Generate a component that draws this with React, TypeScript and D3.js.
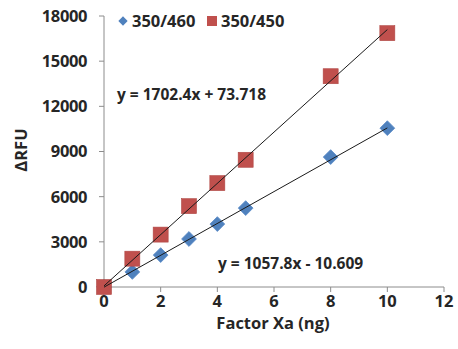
import React from 'react';
import * as d3 from 'd3';

const xValues = [0, 1, 2, 3, 4, 5, 8, 10];
const blueValues = [0, 1000, 2120, 3190, 4180, 5240, 8630, 10550];
const redValues = [0, 1880, 3480, 5370, 6900, 8450, 14000, 16860];
const xTicks = [0, 2, 4, 6, 8, 10, 12];
const yTicks = [0, 3000, 6000, 9000, 12000, 15000, 18000];
const seriesNames = ['350/460', '350/450'];
const fitBlue = { slope: 1057.8, intercept: -10.609, label: 'y = 1057.8x - 10.609' };
const fitRed = { slope: 1702.4, intercept: 73.718, label: 'y = 1702.4x + 73.718' };

const W = 458;
const H = 349;
const FONT = '"Open Sans", sans-serif';
const TXT = '#262626';
const AXIS = '#8c8c8c';

export default function App() {
  const x = d3.scaleLinear().domain([0, 12]).range([104, 444]);
  const y = d3.scaleLinear().domain([0, 18000]).range([287, 16]);

  const line = (f: { slope: number; intercept: number }) =>
    d3.line<number>().x(d => x(d)).y(d => y(f.slope * d + f.intercept))([0, 10]) || '';

  const diamond = d3.symbol().type(d3.symbolDiamond2).size(140)() || '';

  return (
    <svg width={W} height={H} style={{ position: 'absolute', left: 0, top: 0 }}>
      <rect width={W} height={H} fill="#fff" />
      {/* axes */}
      <line x1={x(0)} x2={x(0)} y1={y(0)} y2={y(18000)} stroke={AXIS} />
      <line x1={x(0)} x2={x(12)} y1={y(0)} y2={y(0)} stroke={AXIS} />
      {yTicks.map(t => (
        <g key={'y' + t}>
          <line x1={x(0) - 5} x2={x(0)} y1={y(t)} y2={y(t)} stroke={AXIS} />
          <text x={87} y={y(t)} dy="0.36em" textAnchor="end" fontFamily={FONT} fontWeight="bold"
            fontSize={16.5} fill={TXT} style={{ letterSpacing: '-0.4px' }}>{t}</text>
        </g>
      ))}
      {xTicks.map(t => (
        <g key={'x' + t}>
          <line x1={x(t)} x2={x(t)} y1={y(0)} y2={y(0) + 5} stroke={AXIS} />
          <text x={x(t)} y={307} textAnchor="middle" fontFamily={FONT} fontWeight="bold"
            fontSize={16.5} fill={TXT}>{t}</text>
        </g>
      ))}
      <text transform={`translate(27,150) rotate(-90)`} textAnchor="middle" fontFamily={FONT}
        fontWeight="bold" fontSize={16.5} fill={TXT}>ΔRFU</text>
      <text x={273} y={329} textAnchor="middle" fontFamily={FONT} fontWeight="bold"
        fontSize={16.5} fill={TXT}>Factor Xa (ng)</text>

      {/* markers */}
      {xValues.map((v, i) => (
        <path key={'b' + i} d={diamond} transform={`translate(${x(v)},${y(blueValues[i])})`}
          fill="#4f81bd" stroke="#5b8cc8" strokeWidth={0.8} />
      ))}
      {xValues.map((v, i) => (
        <rect key={'r' + i} x={x(v) - 7.5} y={y(redValues[i]) - 7.5} width={15} height={15}
          fill="#c0504d" stroke="#b04845" strokeWidth={0.6} />
      ))}
      {/* trendlines drawn over markers */}
      <path d={line(fitRed)} stroke="#1a1a1a" strokeWidth={1} fill="none" />
      <path d={line(fitBlue)} stroke="#1a1a1a" strokeWidth={1} fill="none" />

      {/* equations */}
      <text x={117} y={100} fontFamily={FONT} fontWeight="bold" fontSize={15.5} fill={TXT}>{fitRed.label}</text>
      <text x={218} y={269} fontFamily={FONT} fontWeight="bold" fontSize={15.5} fill={TXT}>{fitBlue.label}</text>

      {/* legend */}
      <path d={d3.symbol().type(d3.symbolDiamond2).size(55)() || ''} transform="translate(123,21)" fill="#4f81bd" />
      <text x={132} y={27} fontFamily={FONT} fontWeight="bold" fontSize={16.5} fill={TXT}>{seriesNames[0]}</text>
      <rect x={207} y={16} width={10} height={10} fill="#c0504d" />
      <text x={221} y={27} fontFamily={FONT} fontWeight="bold" fontSize={16.5} fill={TXT}>{seriesNames[1]}</text>
    </svg>
  );
}
